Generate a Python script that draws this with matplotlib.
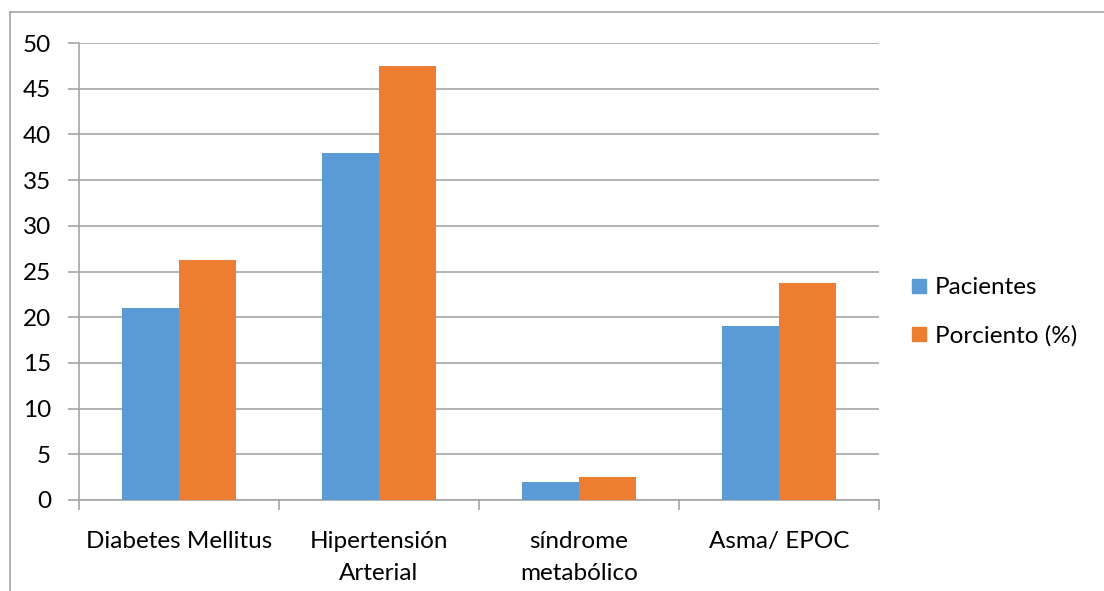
import matplotlib
matplotlib.use("Agg")
import matplotlib.pyplot as plt
import numpy as np
from matplotlib.lines import Line2D

categories = ["Diabetes Mellitus", "Hipertensión\nArterial", "síndrome\nmetabólico", "Asma/ EPOC"]
pacientes = [21, 38, 2, 19]
porciento = [26.25, 47.5, 2.5, 23.75]
series_names = ["Pacientes", "Porciento (%)"]
yticks = [0, 5, 10, 15, 20, 25, 30, 35, 40, 45, 50]

blue = "#5B9BD5"
orange = "#ED7D31"
grid = "#A6A6A6"
fs = 17.5

plt.rcParams['font.family'] = ['Lato', 'DejaVu Sans']

fig = plt.figure(figsize=(11.04, 5.91), dpi=100)
ax = fig.add_axes([79/1104, 1-500/591, 800/1104, 457/591])

x = np.arange(len(categories))
w = 0.285
ax.bar(x - w/2, pacientes, w, color=blue, label=series_names[0], zorder=3)
ax.bar(x + w/2, porciento, w, color=orange, label=series_names[1], zorder=3)

ax.set_xlim(-0.5, len(categories) - 0.5)
ax.set_ylim(0, 50)
ax.set_yticks(yticks)
ax.set_yticklabels([str(v) for v in yticks])
ax.yaxis.grid(True, color=grid, linewidth=1.2, zorder=0)
for s in ["top", "right"]:
    ax.spines[s].set_visible(False)
for s in ["left", "bottom"]:
    ax.spines[s].set_color(grid)
    ax.spines[s].set_linewidth(1.2)

ax.set_xticks(np.arange(len(categories) + 1) - 0.5, minor=True)
ax.set_xticks(x)
ax.set_xticklabels(categories, fontsize=fs, linespacing=1.65, va="top")
ax.tick_params(axis="x", which="major", length=0, pad=22)
ax.tick_params(axis="x", which="minor", length=7, color=grid, width=1.2)
ax.tick_params(axis="y", length=8, color=grid, width=1.2, labelsize=fs, pad=12)

handles = [Line2D([0], [0], marker="s", linestyle="none", markersize=10, markerfacecolor=blue, markeredgecolor=blue),
           Line2D([0], [0], marker="s", linestyle="none", markersize=10, markerfacecolor=orange, markeredgecolor=orange)]
fig.legend(handles, series_names, loc="center left", bbox_to_anchor=(912/1104, 1-312/591),
           frameon=False, fontsize=fs, handlelength=0.6, handletextpad=0.35, labelspacing=1.1,
           borderpad=0, borderaxespad=0)

# outer chart border
fig.add_artist(Line2D([10/1104, 1.0], [1-12/591, 1-12/591], transform=fig.transFigure, color=grid, linewidth=1.2))
fig.add_artist(Line2D([10/1104, 10/1104], [0, 1-12/591], transform=fig.transFigure, color=grid, linewidth=1.2))

fig.savefig("out.png", dpi=100)
